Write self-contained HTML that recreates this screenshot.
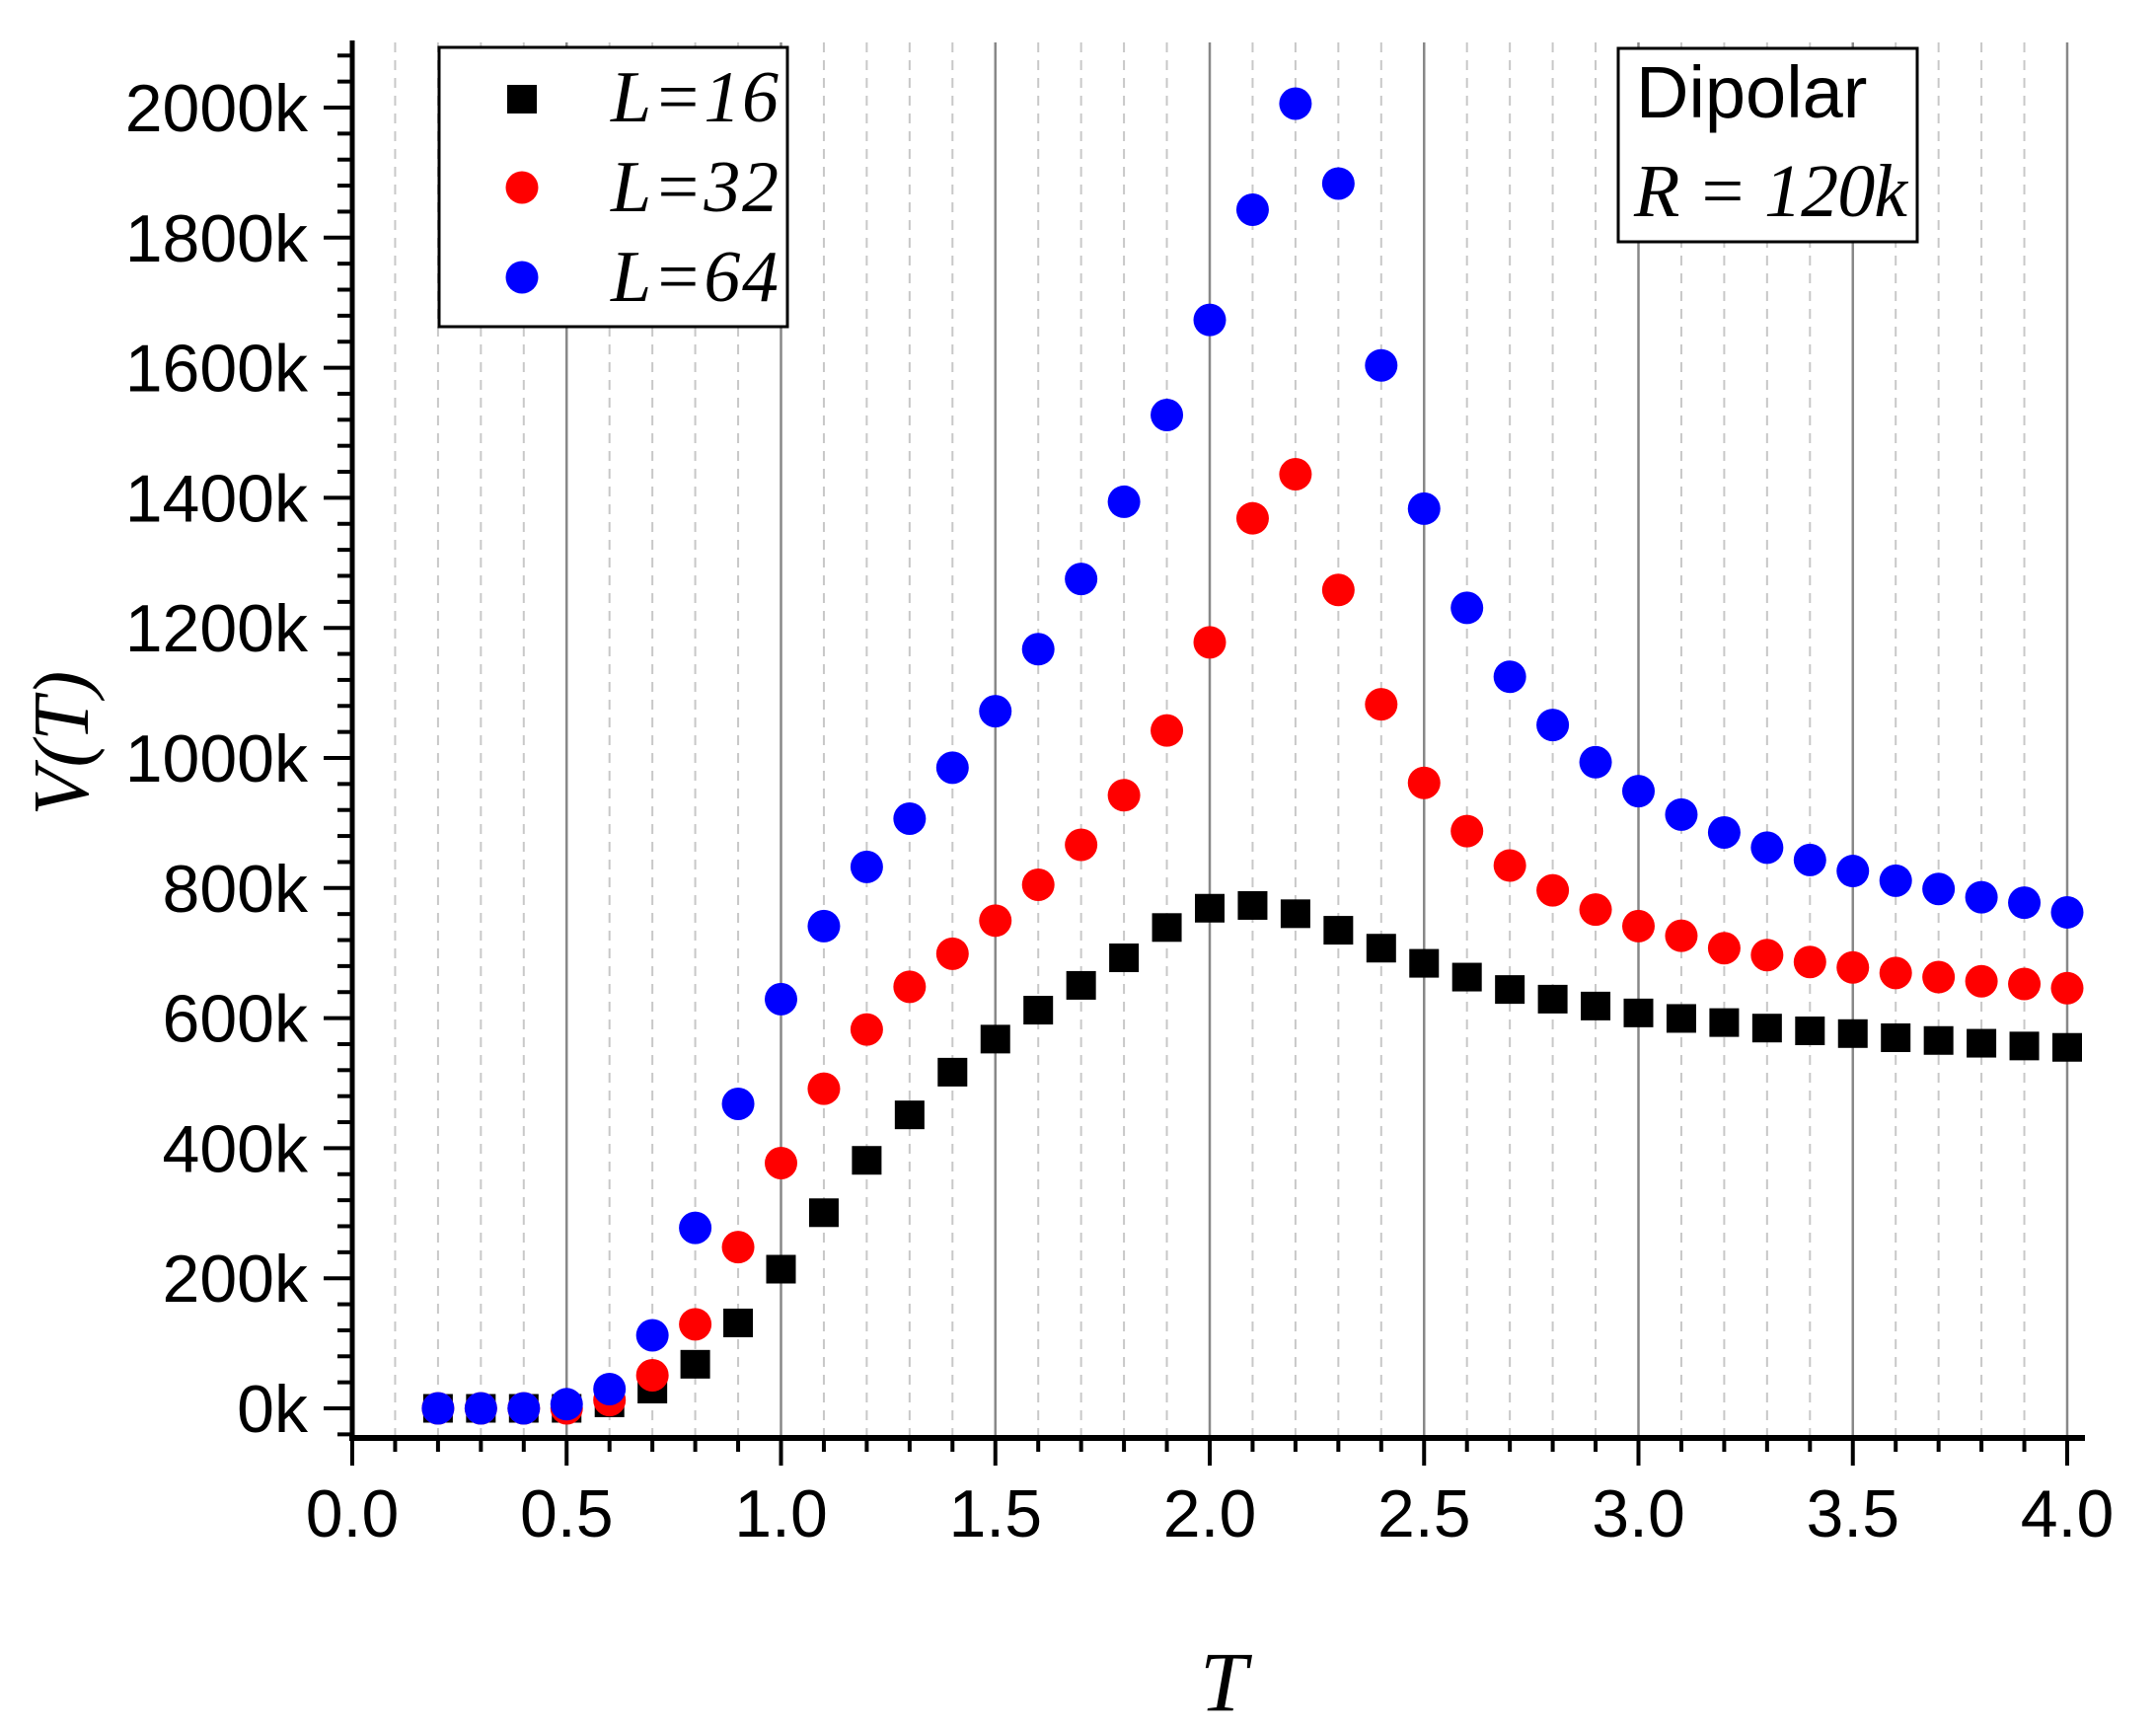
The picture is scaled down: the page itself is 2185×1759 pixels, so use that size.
<!DOCTYPE html>
<html><head><meta charset="utf-8"><style>
html,body{margin:0;padding:0;background:#fff;}
svg{display:block;}
</style></head><body>
<svg id="s" width="2185" height="1759" viewBox="0 0 2185 1759" xmlns="http://www.w3.org/2000/svg">
<rect width="2185" height="1759" fill="#fff"/>
<g id="grid"></g>
<g id="data"></g>
<g id="axes"></g>
<!-- legend -->
<rect x="445" y="48" width="353" height="283" fill="#fff" stroke="#000" stroke-width="3"/>
<rect x="514" y="86" width="30" height="29" fill="#000"/>
<circle cx="529" cy="190" r="16.5" fill="#f00"/>
<circle cx="529" cy="281" r="16.5" fill="#00f"/>
<g font-family="Liberation Serif, serif" font-style="italic" font-size="74" fill="#000">
<text x="619" y="123" textLength="170">L=16</text>
<text x="619" y="214" textLength="170">L=32</text>
<text x="619" y="305" textLength="170">L=64</text>
</g>
<rect x="1640" y="49" width="303" height="196" fill="#fff" stroke="#000" stroke-width="3"/>
<text x="1658" y="119" font-family="Liberation Sans, sans-serif" font-size="74" fill="#000">Dipolar</text>
<text x="1656" y="219" font-family="Liberation Serif, serif" font-style="italic" font-size="76" fill="#000" textLength="277">R = 120k</text>
<text x="1240" y="1733" text-anchor="middle" font-family="Liberation Serif, serif" font-style="italic" font-size="86" fill="#000">T</text>
<text transform="translate(89,753) rotate(-90)" text-anchor="middle" font-family="Liberation Serif, serif" font-style="italic" font-size="80" fill="#000">V(T)</text>
</svg>
<script>
const NS="http://www.w3.org/2000/svg";
function el(p,t,a){const e=document.createElementNS(NS,t);for(const k in a)e.setAttribute(k,a[k]);p.appendChild(e);return e;}
const X0=357,XS=434.5,Y0=1427,YS=131.8/200;
const grid=document.getElementById('grid'),axes=document.getElementById('axes'),data=document.getElementById('data');
for(let i=1;i<=40;i++){const x=X0+i*XS/10;
 if(i%5==0) el(grid,'line',{x1:x,x2:x,y1:43,y2:1457,stroke:'#888','stroke-width':2.5});
 else el(grid,'line',{x1:x,x2:x,y1:43,y2:1457,stroke:'#c8c8c8','stroke-width':2,'stroke-dasharray':'10,8'});}
el(axes,'line',{x1:X0,x2:X0,y1:41,y2:1460,stroke:'#000','stroke-width':5});
el(axes,'line',{x1:354,x2:2113,y1:1457,y2:1457,stroke:'#000','stroke-width':6});
for(let i=0;i<=40;i++){const x=X0+i*XS/10;el(axes,'line',{x1:x,x2:x,y1:1457,y2:i%5==0?1485:1471,stroke:'#000','stroke-width':4});
 if(i%5==0){const t=el(axes,'text',{x:x,y:1557,'text-anchor':'middle','font-family':'Liberation Sans, sans-serif','font-size':68});t.textContent=(i/10).toFixed(1);}}
for(let v=-40;v<=2080;v+=40){const y=Y0-v*YS;const maj=v%200==0;
 el(axes,'line',{x1:maj?328:342,x2:X0,y1:y,y2:y,stroke:'#000','stroke-width':4});
 if(maj&&v>=0){const t=el(axes,'text',{x:312,y:y+24,'text-anchor':'end','font-family':'Liberation Sans, sans-serif','font-size':68});t.textContent=v+'k';}}
const B=[1022,1022,1022,1022,1018,1008,990,960,921,880,842,809,778,754,733,715,695,673,659,657,663,675,688,699,709,718,725,730,735,739,742,746,748,750,753,755,757,759,760];
const R=[1022,1022,1022,1022,1016,998,961,905,844,790,747,716,692,668,642,613,577,530,466,376,344,428,511,568,603,628,646,660,672,679,688,693,698,702,706,709,712,714,717];
const U=[1022,1022,1022,1019,1008,969,891,801,725,672,629,594,557,516,471,420,364,301,232,152,75,133,265,369,441,491,526,553,574,591,604,615,624,632,639,645,651,655,662];
function py(y){return 1427+(y-1022)*1.396;}
B.forEach((y,i)=>{const x=X0+(0.2+i*0.1)*XS;el(data,'rect',{x:x-15,y:py(y)-14.5,width:30,height:29,fill:'#000'});});
R.forEach((y,i)=>{const x=X0+(0.2+i*0.1)*XS;el(data,'circle',{cx:x,cy:py(y),r:16.5,fill:'#f00'});});
U.forEach((y,i)=>{const x=X0+(0.2+i*0.1)*XS;el(data,'circle',{cx:x,cy:py(y),r:16.5,fill:'#00f'});});
</script>
</body></html>
